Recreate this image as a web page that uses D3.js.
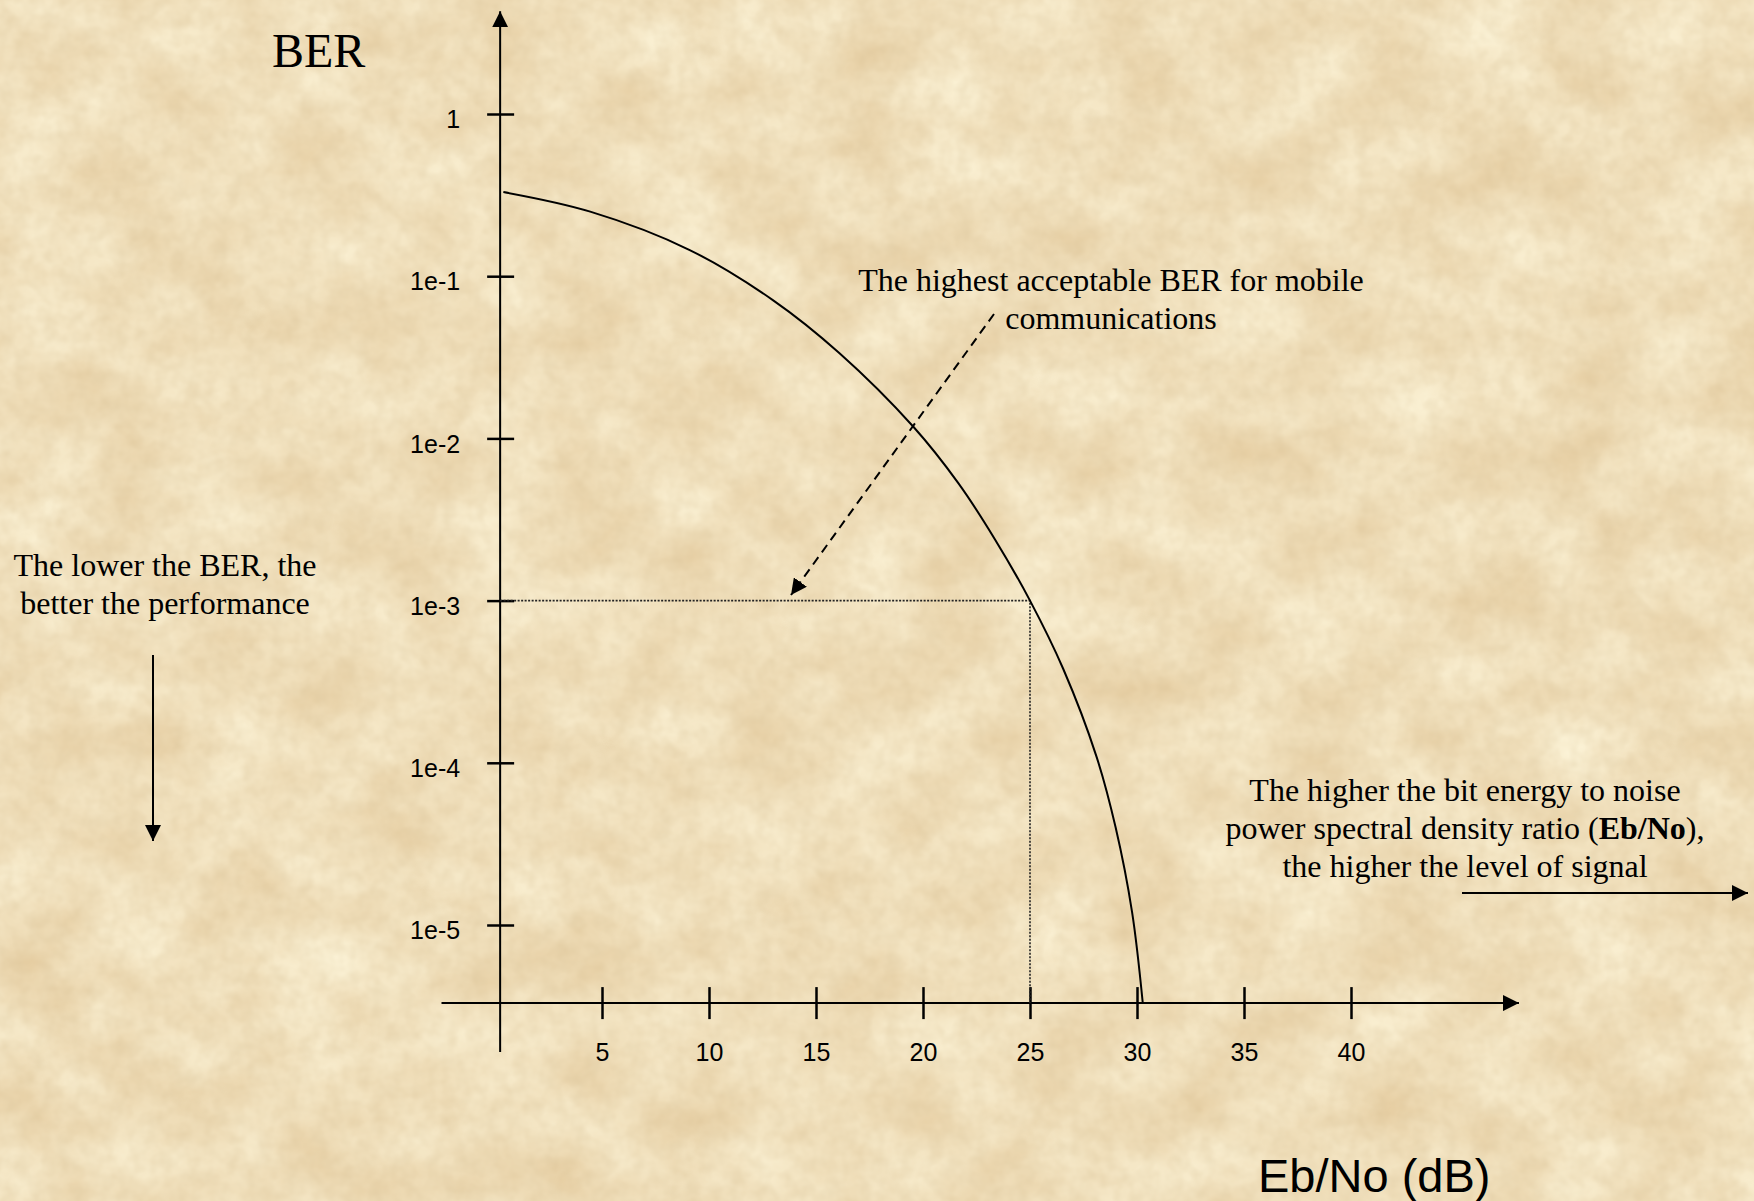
<!DOCTYPE html>
<html>
<head>
<meta charset="utf-8">
<script src="https://cdn.jsdelivr.net/npm/d3@7"></script>
<style>
  html, body { margin: 0; padding: 0; background: #f1dfb6; }
  svg { display: block; }
</style>
</head>
<body>
<div id="chart"></div>
<script>
const width = 1754;
const height = 1201;

// x axis ticks (Eb/No in dB)
const xTicks = [5, 10, 15, 20, 25, 30, 35, 40];

// y axis ticks (BER, log scale)
const yTicks = [1, 1e-1, 1e-2, 1e-3, 1e-4, 1e-5];
const yTickLabels = ["1", "1e-1", "1e-2", "1e-3", "1e-4", "1e-5"];

// BER curve
const ebNo = [0.39, 4.45, 9.1, 13.0, 16.1, 19.55, 21.65, 23.35, 25, 26.55, 28.1, 29.0, 29.77, 30.27];
const ber  = [0.33, 0.25, 0.145, 0.071, 0.0335, 0.0118, 5.3e-3, 2.4e-3, 1e-3, 3.8e-4, 1.1e-4, 4.0e-5, 1.2e-5, 3.3e-6];

// highest acceptable BER and the Eb/No it needs
const berLimit = 1e-3;
const ebNoAtLimit = 25;

// where the axes cross, and where the drawn axis lines stop
const yAxisAt = 0.24;
const yBaseValue = 3.3e-6;
const xExtent = [-2.5, 47.85];
const yExtent = [1.65e-6, 4.3];

const x = d3.scaleLinear().domain([5, 40]).range([602, 1351]);
const y = d3.scaleLog().domain([1e-5, 1]).range([925, 114]);

const serif = "'Liberation Serif', 'Times New Roman', serif";
const sans = "'Liberation Sans', Arial, sans-serif";

const svg = d3.select("#chart").append("svg")
  .attr("width", width)
  .attr("height", height)
  .attr("viewBox", `0 0 ${width} ${height}`);

const defs = svg.append("defs");

// parchment background
const paper = defs.append("filter")
  .attr("id", "paper")
  .attr("x", 0).attr("y", 0).attr("width", "100%").attr("height", "100%")
  .attr("color-interpolation-filters", "sRGB");
paper.append("feTurbulence")
  .attr("type", "fractalNoise")
  .attr("baseFrequency", "0.011 0.014")
  .attr("numOctaves", 5)
  .attr("seed", 7)
  .attr("result", "big");
paper.append("feColorMatrix")
  .attr("in", "big")
  .attr("type", "matrix")
  .attr("values", "0.10 0 0 0 0.895  0.17 0 0 0 0.795  0.24 0 0 0 0.62  0 0 0 0 1")
  .attr("result", "bigc");
paper.append("feTurbulence")
  .attr("type", "fractalNoise")
  .attr("baseFrequency", "0.07")
  .attr("numOctaves", 2)
  .attr("seed", 3)
  .attr("result", "fine");
paper.append("feColorMatrix")
  .attr("in", "fine")
  .attr("type", "matrix")
  .attr("values", "0 0 0 0 0.82  0 0 0 0 0.73  0 0 0 0 0.56  0.45 0 0 0 -0.15")
  .attr("result", "finec");
paper.append("feComposite")
  .attr("in", "finec")
  .attr("in2", "bigc")
  .attr("operator", "over");

svg.append("rect")
  .attr("width", width)
  .attr("height", height)
  .attr("fill", "#f1dfb6")
  .attr("filter", "url(#paper)");

// arrow heads
defs.append("marker")
  .attr("id", "arrow")
  .attr("viewBox", "0 0 10 10")
  .attr("refX", 10).attr("refY", 5)
  .attr("markerUnits", "userSpaceOnUse")
  .attr("markerWidth", 16).attr("markerHeight", 16)
  .attr("orient", "auto")
  .append("path")
  .attr("d", "M0,0 L10,5 L0,10 Z")
  .attr("fill", "#000");

const yBase = y(yBaseValue);
const xAxisPos = x(yAxisAt);

// x axis
const xAxis = svg.append("g")
  .attr("transform", `translate(0,${yBase})`)
  .call(d3.axisBottom(x).tickValues(xTicks).tickFormat(d3.format("d")).tickSizeOuter(0));
xAxis.select(".domain").remove();
xAxis.selectAll(".tick line")
  .attr("y1", -16).attr("y2", 16)
  .attr("stroke", "#000").attr("stroke-width", 2.5);
xAxis.selectAll(".tick text")
  .attr("y", 58).attr("dy", null)
  .attr("fill", "#000")
  .style("font-family", sans).style("font-size", "25px");

svg.append("line")
  .attr("x1", x(xExtent[0])).attr("x2", x(xExtent[1]))
  .attr("y1", yBase).attr("y2", yBase)
  .attr("stroke", "#000").attr("stroke-width", 2)
  .attr("marker-end", "url(#arrow)");

// y axis
const yAxis = svg.append("g")
  .attr("transform", `translate(${xAxisPos},0)`)
  .call(d3.axisLeft(y).tickValues(yTicks).tickFormat((d, i) => yTickLabels[i]).tickSizeOuter(0));
yAxis.select(".domain").remove();
yAxis.selectAll(".tick line")
  .attr("x1", -13).attr("x2", 14)
  .attr("stroke", "#000").attr("stroke-width", 2.5);
yAxis.selectAll(".tick text")
  .attr("x", -40).attr("dy", "0.55em")
  .attr("fill", "#000")
  .style("font-family", sans).style("font-size", "25px");

svg.append("line")
  .attr("x1", xAxisPos).attr("x2", xAxisPos)
  .attr("y1", y(yExtent[0])).attr("y2", y(yExtent[1]))
  .attr("stroke", "#000").attr("stroke-width", 2)
  .attr("marker-end", "url(#arrow)");

// dotted guide lines at the acceptable BER
svg.append("path")
  .attr("d", `M${xAxisPos},${y(berLimit)} H${x(ebNoAtLimit)} V${yBase}`)
  .attr("fill", "none")
  .attr("stroke", "#222")
  .attr("stroke-width", 1.6)
  .attr("stroke-dasharray", "2,1.5");

// BER curve
const line = d3.line()
  .x((d, i) => x(ebNo[i]))
  .y(d => y(d))
  .curve(d3.curveCatmullRom.alpha(0.5));

svg.append("path")
  .datum(ber)
  .attr("d", line)
  .attr("fill", "none")
  .attr("stroke", "#000")
  .attr("stroke-width", 2);

// dashed pointer to the limit line
svg.append("line")
  .attr("x1", 994).attr("y1", 314)
  .attr("x2", 791).attr("y2", 595)
  .attr("stroke", "#000")
  .attr("stroke-width", 2)
  .attr("stroke-dasharray", "9,6")
  .attr("marker-end", "url(#arrow)");

// axis titles
svg.append("text")
  .attr("x", 272).attr("y", 67)
  .style("font-family", serif).style("font-size", "48px")
  .text("BER");

svg.append("text")
  .attr("x", 1258).attr("y", 1192)
  .style("font-family", sans).style("font-size", "47px")
  .text("Eb/No (dB)");

// annotations
const note = (lines, cx, y0, lh) => {
  const t = svg.append("text")
    .attr("text-anchor", "middle")
    .style("font-family", serif).style("font-size", "32px");
  lines.forEach((l, i) => {
    const ts = t.append("tspan").attr("x", cx).attr("y", y0 + i * lh);
    l.forEach(part => {
      ts.append("tspan")
        .style("font-weight", part.bold ? "bold" : null)
        .text(part.text);
    });
  });
};

note([[{ text: "The highest acceptable BER for mobile" }],
      [{ text: "communications" }]], 1111, 291, 38);

note([[{ text: "The lower the BER, the" }],
      [{ text: "better the performance" }]], 165, 576, 38);

note([[{ text: "The higher the bit energy to noise" }],
      [{ text: "power spectral density ratio (" }, { text: "Eb/No", bold: true }, { text: ")," }],
      [{ text: "the higher the level of signal" }]], 1465, 801, 38);

// direction arrows
svg.append("line")
  .attr("x1", 153).attr("y1", 655)
  .attr("x2", 153).attr("y2", 841)
  .attr("stroke", "#000").attr("stroke-width", 2)
  .attr("marker-end", "url(#arrow)");

svg.append("line")
  .attr("x1", 1462).attr("y1", 893)
  .attr("x2", 1748).attr("y2", 893)
  .attr("stroke", "#000").attr("stroke-width", 2)
  .attr("marker-end", "url(#arrow)");
</script>
</body>
</html>
